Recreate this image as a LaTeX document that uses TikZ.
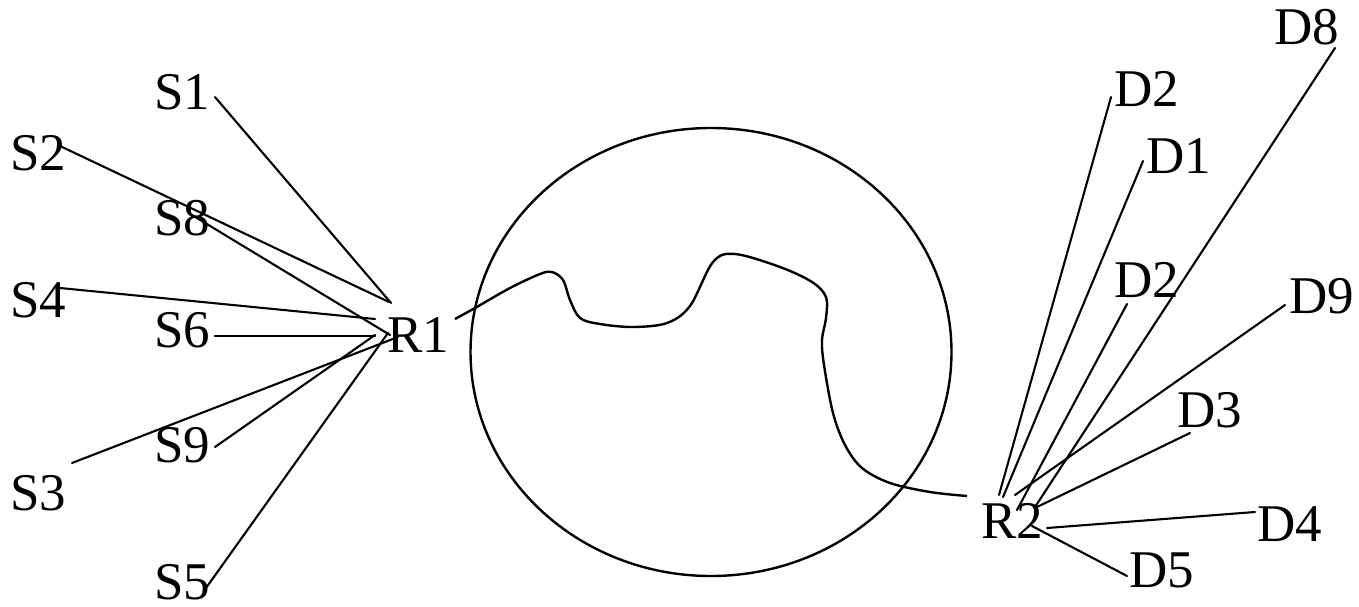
\documentclass[tikz,border=0pt]{standalone}
\usepackage{fontspec}
\setmainfont{Liberation Serif}
\begin{document}
\begin{tikzpicture}[x=1pt,y=-1pt,
  lbl/.style={anchor=base west,inner sep=0pt,font=\fontsize{53}{60}\selectfont},
  link/.style={line width=2.1pt,line cap=round},
  outl/.style={line width=2.4pt}]
\useasboundingbox (0,0) rectangle (1359,607);
% labels
\node[lbl] (s1) at (154,110) {S1};
\node[lbl] (s2) at (10,170) {S2};
\node[lbl] (s8) at (154,235) {S8};
\node[lbl] (s4) at (10,317) {S4};
\node[lbl] (s6) at (154,347) {S6};
\node[lbl] (s9) at (154,462) {S9};
\node[lbl] (s3) at (10,510) {S3};
\node[lbl] (s5) at (154,599) {S5};
\node[lbl] (r1) at (387,352) {R1};
\node[lbl] (d8) at (1274,45) {D8};
\node[lbl] (d2a) at (1114,107) {D2};
\node[lbl] (d1) at (1146,173) {D1};
\node[lbl] (d2b) at (1114,297) {D2};
\node[lbl] (d9) at (1289,313) {D9};
\node[lbl] (d3) at (1177,427) {D3};
\node[lbl] (d4) at (1257,541) {D4};
\node[lbl] (d5) at (1129,587) {D5};
\node[lbl] (r2) at (981,538) {R2};
% end points of links
\coordinate (a1) at (215,97);  \coordinate (b1) at (391,303);
\coordinate (a2) at (60,146);  \coordinate (b2) at (389,302);
\coordinate (a8) at (192,215); \coordinate (b8) at (390,335);
\coordinate (a4) at (60,288);  \coordinate (b4) at (375,319);
\coordinate (a6) at (215,336); \coordinate (b6) at (375,336);
\coordinate (a9) at (215,447); \coordinate (b9) at (375,335);
\coordinate (a3) at (72,463);  \coordinate (b3) at (398,337);
\coordinate (a5) at (206,588); \coordinate (b5) at (388,333);
\coordinate (e2a) at (1111,97);  \coordinate (f2a) at (999,495);
\coordinate (e1) at (1143,161);  \coordinate (f1) at (1003,497);
\coordinate (e2b) at (1127,304); \coordinate (f2b) at (1017,510);
\coordinate (e8) at (1335,48);   \coordinate (f8) at (1035,507);
\coordinate (e9) at (1285,305);  \coordinate (f9) at (1015,495);
\coordinate (e3) at (1190,433);  \coordinate (f3) at (1037,507);
\coordinate (e4) at (1255,512);  \coordinate (f4) at (1047,528);
\coordinate (e5) at (1127,576);  \coordinate (f5) at (1032,526);
\foreach \p/\q in {a1/b1,a2/b2,a8/b8,a4/b4,a6/b6,a9/b9,a3/b3,a5/b5,
  e2a/f2a,e1/f1,e2b/f2b,e8/f8,e9/f9,e3/f3,e4/f4,e5/f5}
  \draw[link] (\p) -- (\q);
% cloud
\draw[outl] (711,352) ellipse[x radius=240.5,y radius=224];
% route
\draw[outl] plot[smooth,tension=0.55] coordinates {
 (455,319) (475,308) (510,288) (540,274) (552,272) (563,280) (570,300) (580,318)
 (600,324) (633,327) (667,323) (690,306) (713,262) (735,254) (780,267)
 (812,282) (826,297) (826,318) (822,340) (824,365) (833,413) (845,445) (862,468)
 (890,483) (930,492) (967,496)};
\end{tikzpicture}
\end{document}
